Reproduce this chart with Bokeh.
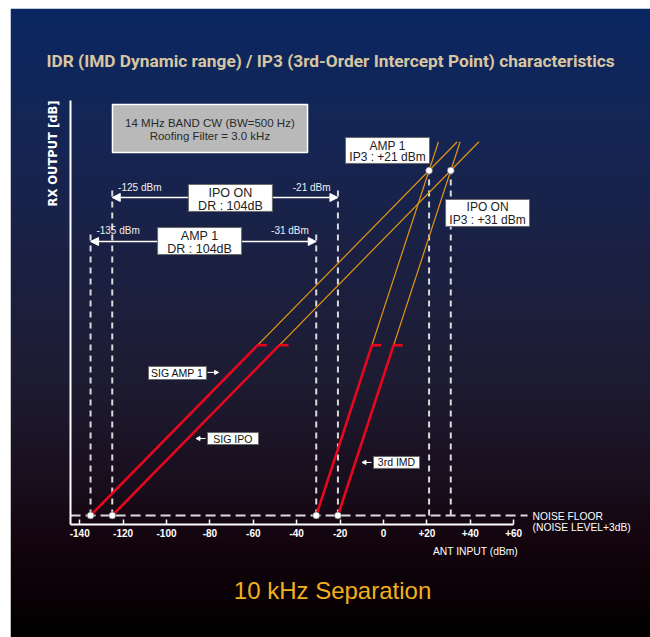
import numpy as np
from bokeh.plotting import figure
from bokeh.models import Range1d, FixedTicker, Arrow, NormalHead, BoxAnnotation, Label
from bokeh.embed import file_html
from bokeh.resources import INLINE

# ---------------- data ----------------
modes = ["AMP 1", "IPO ON"]
signal_labels = ["SIG AMP 1", "SIG IPO"]
mds_dbm = [-135, -125]          # signal input giving output at the noise floor
imd_floor_dbm = [-31, -21]      # two-tone input where 3rd IMD reaches the noise floor
ip3_dbm = [21, 31]              # 3rd-order intercept points
dr_db = [104, 104]              # IMD dynamic range
linear_limit_db = 77            # output (dB above noise floor) where measured (red) part ends
extrap_limit_db = 169           # extrapolated (orange) lines end
x_ticks = [-140, -120, -100, -80, -60, -40, -20, 0, 20, 40, 60]
x_tick_labels = ["-140", "-120", "-100", "-80", "-60", "-40", "-20", "0", "+20", "+40", "+60"]

FONT = "Liberation Sans"
COND = "Roboto"
COND2 = "DejaVu Sans Condensed"
RED = "#e8061e"
ORANGE = "#e39512"
DASH = "#dadada"

X0, X1 = -171.89, 123.04
Y0, Y1 = -55.17, 229.26

p = figure(width=650, height=637, output_backend="svg", toolbar_location=None, title=None,
           x_range=Range1d(X0, X1), y_range=Range1d(Y0, Y1),
           min_border_left=10, min_border_right=0, min_border_top=8, min_border_bottom=0,
           border_fill_color="white", outline_line_color=None)
p.grid.visible = False

# ---------------- background gradient ----------------
stops_py = [8, 120, 250, 380, 480, 540, 580, 637]
stops_rgb = [(10, 39, 98), (20, 38, 86), (27, 33, 68), (30, 28, 50), (25, 15, 30),
             (20, 5, 14), (13, 2, 8), (0, 0, 0)]
N = 629
py = 637 - (np.arange(N) + 0.5)
img = np.empty((N, 1), dtype=np.uint32)
view = img.view(dtype=np.uint8).reshape((N, 1, 4))
for c in range(3):
    view[:, 0, c] = np.interp(py, stops_py, [s[c] for s in stops_rgb]).astype(np.uint8)
view[:, 0, 3] = 255
p.image_rgba(image=[img], x=X0, y=Y0, dw=X1 - X0, dh=Y1 - Y0)

# ---------------- axes ----------------
xa = p.xaxis[0]
xa.fixed_location = -4.07
xa.bounds = (-144.2, 60)
xa.ticker = FixedTicker(ticks=x_ticks)
xa.major_label_overrides = {t: l for t, l in zip(x_ticks, x_tick_labels)}
xa.axis_line_color = "white"
xa.axis_line_width = 2
xa.major_tick_in = 5
xa.major_tick_out = 0
xa.major_tick_line_color = "white"
xa.major_tick_line_width = 1.5
xa.minor_tick_line_color = None
xa.major_label_text_color = "white"
xa.major_label_text_font = FONT
xa.major_label_text_font_style = "bold"
xa.major_label_text_font_size = "10px"
xa.major_label_standoff = 5

ya = p.yaxis[0]
ya.fixed_location = -144.2
ya.bounds = (-4.07, 187.7)
ya.ticker = FixedTicker(ticks=[])
ya.axis_line_color = "white"
ya.axis_line_width = 2
ya.major_tick_line_color = None
ya.minor_tick_line_color = None
ya.major_label_text_font_size = "0px"

# ---------------- noise floor & dashed guides ----------------
p.line([-144.2, 66.4], [0, 0], line_color=DASH, line_width=2, line_dash="10 5")

ip3_out = [ip3_dbm[i] - mds_dbm[i] for i in range(2)]
guide_top = [128, 148]
vx = mds_dbm + imd_floor_dbm + ip3_dbm
vtop = guide_top + guide_top + ip3_out
p.segment(x0=vx, y0=[0] * 6, x1=vx, y1=vtop, line_color=DASH, line_width=2, line_dash="6 5")

# ---------------- characteristic lines ----------------
for i in range(2):
    xs = mds_dbm[i]
    xi = imd_floor_dbm[i]
    # extrapolated (orange)
    p.line([xs, xs + extrap_limit_db], [0, extrap_limit_db], line_color=ORANGE, line_width=1.2)
    p.line([xi, xi + extrap_limit_db / 3], [0, extrap_limit_db], line_color=ORANGE, line_width=1.2)
    # measured (red)
    xs_end = xs + linear_limit_db
    xi_end = xi + linear_limit_db / 3
    p.line([xs, xs_end], [0, linear_limit_db], line_color=RED, line_width=2.6)
    p.line([xi, xi_end], [0, linear_limit_db], line_color=RED, line_width=2.6)
    p.line([xs_end, xs_end + 4.2], [linear_limit_db] * 2, line_color=RED, line_width=2.6)
    p.line([xi_end, xi_end + 4.2], [linear_limit_db] * 2, line_color=RED, line_width=2.6)

p.scatter(x=mds_dbm + imd_floor_dbm + ip3_dbm, y=[0, 0, 0, 0] + ip3_out,
          size=7, fill_color="white", line_color="#444444", line_width=0.6)

# ---------------- annotations ----------------
def label(x, y, text, size, color="white", font=FONT, style="normal", align="center",
          angle=0.0):
    p.add_layout(Label(x=x, y=y, text=text, text_font_size=size, text_color=color,
                       text_font=font, text_font_style=style, text_align=align,
                       text_baseline="middle", angle=angle))


def box(left, right, bottom, top, fill="white", line="#6a6a6a", lw=1.0):
    p.add_layout(BoxAnnotation(left=left, right=right, bottom=bottom, top=top,
                               fill_color=fill, fill_alpha=1.0, line_color=line,
                               line_width=lw, line_alpha=1.0))


def arrow(xs, xe, y, size, both=False, lw=1.4):
    p.add_layout(Arrow(x_start=xs, x_end=xe, y_start=y, y_end=y, line_color="white",
                       line_width=lw,
                       start=NormalHead(size=size, fill_color="white", line_color="white") if both else None,
                       end=NormalHead(size=size, fill_color="white", line_color="white")))


# titles
label(-24.4, 205.7, "IDR (IMD Dynamic range) / IP3 (3rd-Order Intercept Point) characteristics",
      "17.3px", color="#d8c6a2", font=COND, style="bold")
label(-152.5, 163.7, "RX OUTPUT [dB]", "12.8px", font=COND2, style="bold", angle=np.pi / 2)
label(-23.5, -33.9, "10 kHz Separation", "24px", color="#f2b01e")

# condition box
box(-124.9, -35.0, 164.1, 185.8, fill="#b9b9b9", line="white", lw=1.5)
label(-80.0, 177.3, "14 MHz BAND CW (BW=500 Hz)", "11.5px", color="#2a2a2a")
label(-80.0, 171.8, "Roofing Filter = 3.0 kHz", "11.5px", color="#2a2a2a")

# dynamic range arrows
dr_y = [123.9, 143.8]
dr_lbl_y = [128.9, 148.3]
dr_box = [(-104.1, -65.4, 118.0, 130.2), (-89.9, -51.2, 137.5, 149.7)]
for i in range(2):
    arrow(mds_dbm[i], imd_floor_dbm[i], dr_y[i], 8, both=True)
    label(mds_dbm[i] + 2.7, dr_lbl_y[i], f"{mds_dbm[i]} dBm", "10px", color="#f0f0f0", align="left")
    label(imd_floor_dbm[i] - 3.4, dr_lbl_y[i], f"{imd_floor_dbm[i]} dBm", "10px", color="#f0f0f0",
          align="right")
    l, r, b, t = dr_box[i]
    box(l, r, b, t)
    cx = (l + r) / 2
    label(cx, t - 3.7, modes[i], "12.5px", color="#222222")
    label(cx, b + 2.4, f"DR : {dr_db[i]}dB", "12.5px", color="#222222")

# IP3 boxes
ip3_box = [(-17.5, 21.2, 159.2, 170.9), (28.6, 67.3, 130.7, 142.9)]
for i in range(2):
    l, r, b, t = ip3_box[i]
    box(l, r, b, t)
    cx = (l + r) / 2
    label(cx, t - 3.6, modes[i], "12px", color="#222222")
    label(cx, b + 2.7, f"IP3 : +{ip3_dbm[i]} dBm", "12px", color="#222222")

# line labels
box(-108.3, -81.6, 61.5, 67.4)
label(-95.0, 64.5, signal_labels[0], "10.5px", color="#111111")
arrow(-81.1, -76.0, 64.7, 4, lw=1)

box(-81.1, -57.6, 32.1, 37.5)
label(-69.4, 34.8, signal_labels[1], "10.5px", color="#111111")
arrow(-82.0, -86.4, 34.8, 4, lw=1)

box(-4.6, 16.6, 21.3, 26.7)
label(6.0, 24.0, "3rd IMD", "10.5px", color="#111111")
arrow(-5.5, -9.9, 24.0, 4, lw=1)

# axis texts
label(68.7, -0.45, "NOISE FLOOR", "10.3px", align="left")
label(68.7, -5.4, "(NOISE LEVEL+3dB)", "10.3px", align="left")
label(42.4, -16.3, "ANT INPUT (dBm)", "10.3px")

open("out.html", "w").write(file_html(p, INLINE))
